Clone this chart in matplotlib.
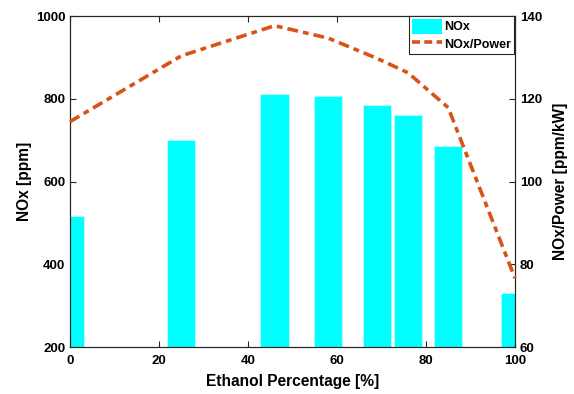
import numpy as np
import matplotlib
matplotlib.use('Agg')
import matplotlib.pyplot as plt
from matplotlib.patches import Patch
from matplotlib.lines import Line2D

# data
ethanol = [0, 25, 46, 58, 69, 76, 85, 100]
nox = [516, 700, 812, 806, 786, 762, 686, 332]
nox_power = [114.5, 130.4, 137.7, 134.7, 129.8, 126.3, 117.9, 76.7]

plt.rcParams['font.family'] = ['Liberation Sans', 'DejaVu Sans']
plt.rcParams['font.weight'] = 'bold'

orange = '#D95319'

fig = plt.figure(figsize=(5.74, 3.94), dpi=100)
ax = fig.add_axes([0.122, 0.119, 0.775, 0.840])

ax.bar(ethanol, [v - 200 for v in nox], bottom=200, width=6.4,
       color='#00FFFF', edgecolor='#B8FFFF', linewidth=0.6, zorder=2)
ax.set_xlim(0, 100)
ax.set_ylim(200, 1000)
ax.set_xticks([0, 20, 40, 60, 80, 100])
ax.set_yticks([200, 400, 600, 800, 1000])
ax.tick_params(direction='in', length=4, width=0.8, labelsize=9.5, top=True, right=False,
               color='#262626')
ax.tick_params(axis='x', pad=6)
ax.set_xlabel('Ethanol Percentage [%]', fontsize=11.2, fontweight='bold', labelpad=5)
ax.set_ylabel('NOx [ppm]', fontsize=11.2, fontweight='bold', labelpad=3)

ax2 = ax.twinx()
ax2.plot(ethanol, nox_power, color=orange, linewidth=2.6,
         dashes=(3, 1.4, 1.6, 1.4), zorder=3, clip_on=False)
ax2.set_ylim(60, 140)
ax2.set_yticks([60, 80, 100, 120, 140])
ax2.tick_params(direction='in', length=4, width=0.8, labelsize=9.5, color='#262626')
ax2.set_ylabel('NOx/Power [ppm/kW]', fontsize=11.2, fontweight='bold', labelpad=8)

for a in (ax, ax2):
    for s in a.spines.values():
        s.set_linewidth(0.8)
        s.set_color('#262626')
    for lbl in a.get_xticklabels() + a.get_yticklabels():
        lbl.set_fontweight('bold')

handles = [Patch(facecolor='#00FFFF', edgecolor='none'),
           Line2D([0], [0], color=orange, linewidth=2.6, dashes=(2.2, 1.2))]
leg = ax2.legend(handles, ['NOx', 'NOx/Power'], loc='upper right',
                 bbox_to_anchor=(0.997, 1.0), borderaxespad=0, fancybox=False,
                 framealpha=1, edgecolor='#262626', fontsize=9,
                 handlelength=2.4, handleheight=1.5, handletextpad=0.2,
                 borderpad=0.2, labelspacing=0.2)
leg.get_frame().set_linewidth(0.8)
for t in leg.get_texts():
    t.set_fontweight('bold')

fig.savefig('out.png', dpi=100)
